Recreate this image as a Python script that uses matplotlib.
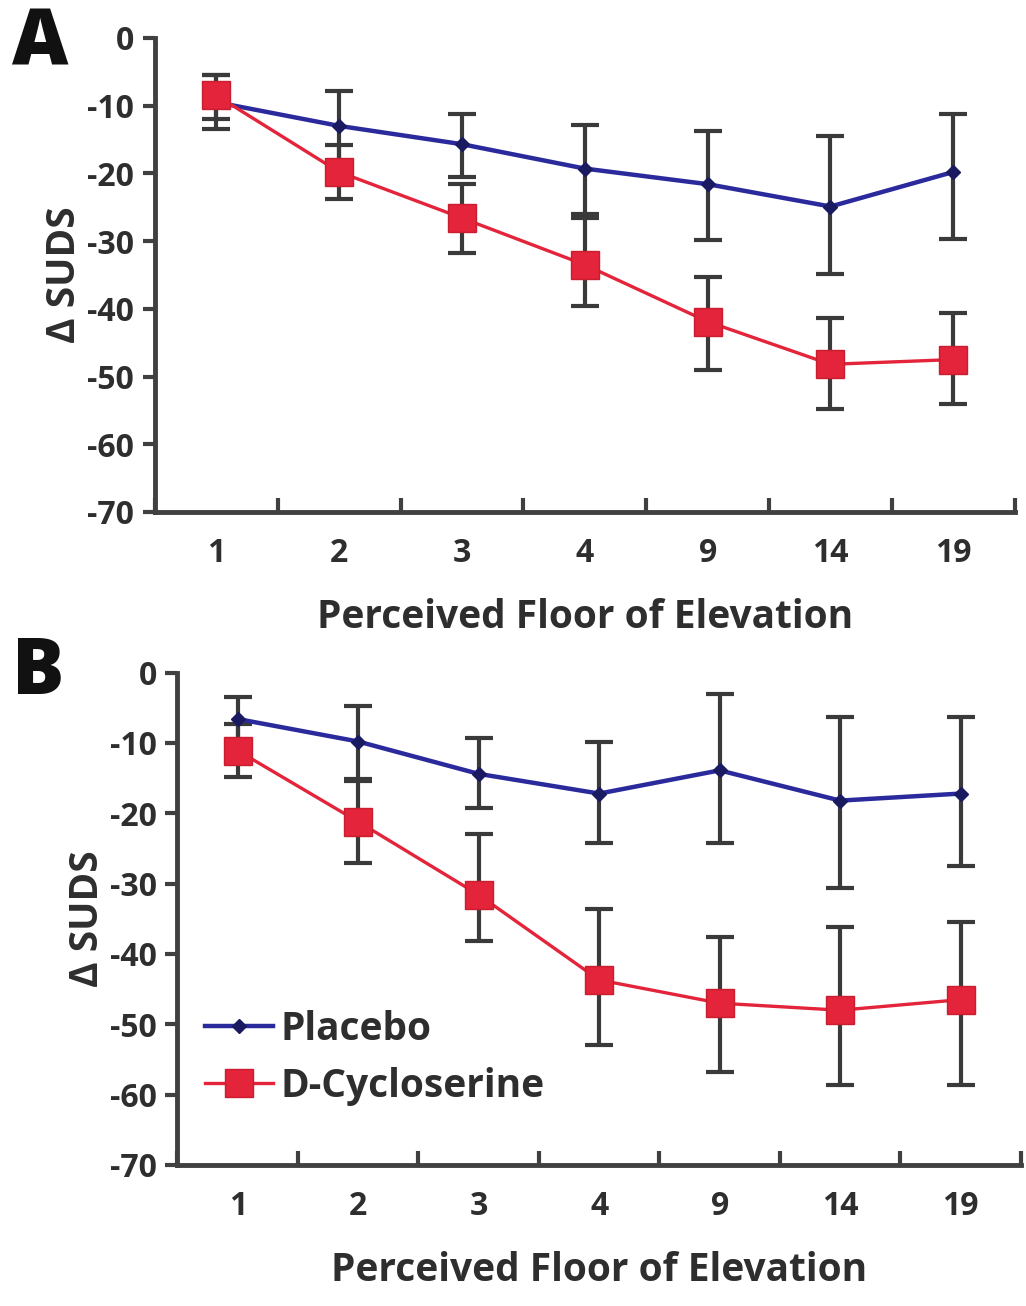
import matplotlib.pyplot as plt
import numpy as np

floors = ["1", "2", "3", "4", "9", "14", "19"]

# panel A: means and lower/upper ends of the error bars
a_placebo = [-9.5, -13.0, -15.7, -19.3, -21.6, -24.9, -19.8]
a_placebo_lo = [-13.5, -18.2, -20.6, -26.0, -29.8, -34.8, -29.7]
a_placebo_hi = [-5.5, -7.8, -11.2, -12.9, -13.7, -14.5, -11.2]
a_dcs = [-8.5, -19.8, -26.6, -33.5, -41.9, -48.2, -47.5]
a_dcs_lo = [-12.0, -23.8, -31.7, -39.6, -49.0, -54.8, -54.0]
a_dcs_hi = [-5.5, -15.8, -21.6, -26.6, -35.3, -41.4, -40.6]

# panel B
b_placebo = [-6.6, -9.8, -14.4, -17.2, -13.9, -18.2, -17.2]
b_placebo_lo = [-9.8, -15.1, -19.2, -24.2, -24.2, -30.6, -27.5]
b_placebo_hi = [-3.5, -4.8, -9.3, -9.8, -3.0, -6.3, -6.3]
b_dcs = [-11.1, -21.2, -31.6, -43.7, -47.0, -48.0, -46.5]
b_dcs_lo = [-14.9, -27.0, -38.1, -53.0, -56.8, -58.6, -58.6]
b_dcs_hi = [-7.3, -15.4, -23.0, -33.6, -37.6, -36.1, -35.4]

plt.rcParams['font.family'] = ['Open Sans', 'DejaVu Sans']
plt.rcParams['font.weight'] = 'bold'
plt.rcParams['axes.labelweight'] = 'bold'
plt.rcParams['axes.unicode_minus'] = False

fig = plt.figure(figsize=(10.26, 13.06), dpi=100)
axA = fig.add_axes([0.151, 0.608, 0.838, 0.363])
axB = fig.add_axes([0.173, 0.108, 0.822, 0.377])

blue = '#2a2a9c'
red = '#e3243a'
barc = '#3a3a3a'
axc = '#404040'
txt = '#2e2e2e'


def panel(ax, pl, pl_lo, pl_hi, dc, dc_lo, dc_hi):
    x = np.arange(len(floors))
    pl = np.array(pl); dc = np.array(dc)
    ax.errorbar(x, pl, yerr=[pl - np.array(pl_lo), np.array(pl_hi) - pl],
                fmt='none', ecolor=barc, elinewidth=3, capsize=10, capthick=3, zorder=2)
    ax.errorbar(x, dc, yerr=[dc - np.array(dc_lo), np.array(dc_hi) - dc],
                fmt='none', ecolor=barc, elinewidth=3, capsize=10, capthick=3, zorder=2)
    ax.plot(x, pl, color=blue, lw=3.2, marker='D', ms=7, mfc='#1a1a60', mec='#1a1a60',
            label='Placebo', zorder=3)
    ax.plot(x, dc, color=red, lw=2.4, marker='s', ms=20, mfc=red, mec='#c81e30',
            label='D-Cycloserine', zorder=4)
    ax.set_xlim(-0.5, len(floors) - 0.5)
    ax.set_ylim(-70, 0)
    ax.set_yticks(np.arange(-70, 1, 10))
    ax.set_xticks(x)
    ax.set_xticklabels(floors)
    ax.set_xticks(np.arange(-0.5, len(floors), 1), minor=True)
    ax.tick_params(axis='x', which='major', length=0, pad=18, labelsize=23, colors=txt)
    ax.tick_params(axis='x', which='minor', length=10, width=3, color=axc, direction='in')
    ax.tick_params(axis='y', length=9, width=3, color=axc, direction='out', pad=6,
                   labelsize=23, labelcolor=txt)
    for s in ['top', 'right']:
        ax.spines[s].set_visible(False)
    for s in ['left', 'bottom']:
        ax.spines[s].set_linewidth(3.5)
        ax.spines[s].set_color(axc)
    ax.set_ylabel('Δ SUDS', fontsize=28, color=txt, labelpad=2)
    ax.set_xlabel('Perceived Floor of Elevation', fontsize=28, color=txt, labelpad=20)


panel(axA, a_placebo, a_placebo_lo, a_placebo_hi, a_dcs, a_dcs_lo, a_dcs_hi)
panel(axB, b_placebo, b_placebo_lo, b_placebo_hi, b_dcs, b_dcs_lo, b_dcs_hi)

leg = axB.legend(loc='upper left', bbox_to_anchor=(0.0, 0.37), frameon=False,
                 fontsize=28, handlelength=1.75, handletextpad=0.2, labelspacing=0.45,
                 borderaxespad=0.3)
for t in leg.get_texts():
    t.set_color(txt)

fig.text(0.012, 0.966, 'A', fontsize=56, fontweight='heavy', color='#111111', va='center')
fig.text(0.012, 0.484, 'B', fontsize=56, fontweight='heavy', color='#111111', va='center')

fig.savefig('out.png', dpi=100)
